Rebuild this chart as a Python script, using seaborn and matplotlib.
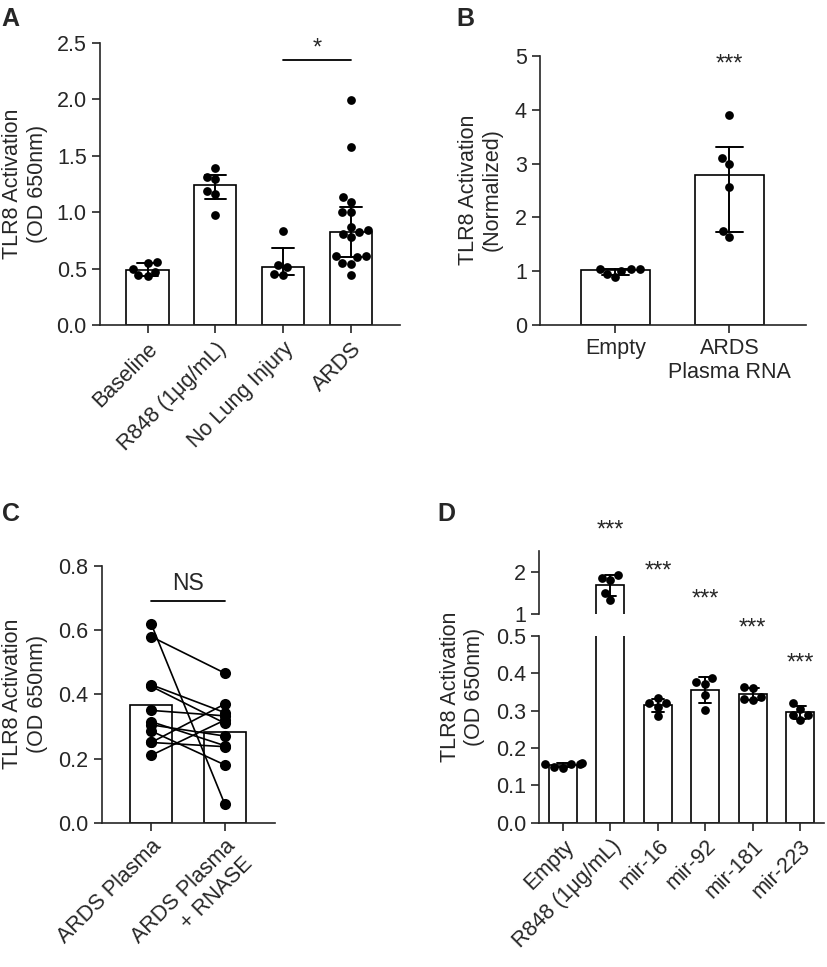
import numpy as np
import pandas as pd
import matplotlib.pyplot as plt
import seaborn as sns

sns.set_style("ticks")
plt.rcParams["font.family"] = ["Liberation Sans", "DejaVu Sans"]
plt.rcParams["axes.linewidth"] = 1.2

# Panel A - TLR8 activation by plasma group (median, IQR)
a_groups = ["Baseline", "R848 (1μg/mL)", "No Lung Injury", "ARDS"]
a_baseline = [0.56, 0.55, 0.50, 0.47, 0.44, 0.43]
a_r848 = [1.39, 1.31, 1.29, 1.19, 1.16, 0.97]
a_no_injury = [0.83, 0.53, 0.51, 0.45, 0.44]
a_ards = [1.99, 1.58, 1.13, 1.09, 1.00, 1.00, 0.87, 0.84, 0.82, 0.81,
          0.78, 0.61, 0.61, 0.60, 0.55, 0.54, 0.44]

# Panel B - normalized (median, IQR)
b_groups = ["Empty", "ARDS\nPlasma RNA"]
b_empty = [0.95, 1.05, 1.01, 1.035, 1.05, 0.89]
b_rna = [3.90, 3.10, 3.00, 2.56, 1.75, 1.63]

# Panel C - paired samples, before / after RNASE
c_groups = ["ARDS Plasma", "ARDS Plasma\n+ RNASE"]
c_before = [0.62, 0.58, 0.43, 0.425, 0.35, 0.315, 0.305, 0.286, 0.25, 0.25, 0.21]
c_after = [0.057, 0.466, 0.343, 0.31, 0.333, 0.24, 0.27, 0.18, 0.237, 0.37, 0.32]

# Panel D - miRNA stimulation (mean, SD)
d_groups = ["Empty", "R848 (1μg/mL)", "mir-16", "mir-92", "mir-181", "mir-223"]
d_empty = [0.150, 0.157, 0.159, 0.158, 0.156, 0.146]
d_r848 = [1.80, 1.92, 1.87, 1.51, 1.34]
d_mir16 = [0.334, 0.310, 0.319, 0.286, 0.319]
d_mir92 = [0.386, 0.370, 0.375, 0.341, 0.301]
d_mir181 = [0.328, 0.359, 0.362, 0.337, 0.330]
d_mir223 = [0.275, 0.304, 0.319, 0.288, 0.288]

FS = 15.5


def long_df(groups, series):
    rows = [(g, v) for g, vals in zip(groups, series) for v in vals]
    return pd.DataFrame(rows, columns=["group", "value"])


def iqr(v):
    return tuple(np.percentile(v, [25, 75], method="weibull"))


def style(ax):
    sns.despine(ax=ax)
    ax.tick_params(direction="out", length=6, width=1.2, labelsize=FS)
    ax.set_xlabel("")
    ax.set_ylabel("")


bar_kw = dict(color="white", edgecolor="black", linewidth=1.2, saturation=1)
err_kw = {"color": "black", "linewidth": 1.4}

fig = plt.figure(figsize=(8.27, 9.67), dpi=100)

# ---- A
ax = fig.add_axes([0.1209, 0.6639, 0.3628, 0.2919])
df_a = long_df(a_groups, [a_baseline, a_r848, a_no_injury, a_ards])
sns.barplot(data=df_a, x="group", y="value", order=a_groups, estimator="median",
            errorbar=iqr, width=0.62, capsize=0.32, err_kws=err_kw, ax=ax, **bar_kw)
sns.swarmplot(data=df_a, x="group", y="value", order=a_groups, color="black",
              size=6.3, ax=ax)
ax.set_ylim(0, 2.5)
ax.set_yticks([0, 0.5, 1.0, 1.5, 2.0, 2.5])
ax.set_xlim(-0.7, 3.72)
style(ax)
ax.set_xticks(range(len(a_groups)))
ax.set_xticklabels(a_groups, rotation=45, ha="right", rotation_mode="anchor")
ax.plot([2, 3], [2.345, 2.345], color="black", lw=1.3)
ax.text(2.5, 2.45, "*", ha="center", va="center", fontsize=17)

# ---- B
ax = fig.add_axes([0.653, 0.6639, 0.3213, 0.2782])
df_b = long_df(b_groups, [b_empty, b_rna])
sns.barplot(data=df_b, x="group", y="value", order=b_groups, estimator="median",
            errorbar=iqr, width=0.6, capsize=0.24, err_kws=err_kw, ax=ax, **bar_kw)
sns.swarmplot(data=df_b, x="group", y="value", order=b_groups, color="black",
              size=6.3, ax=ax)
ax.set_ylim(0, 5)
ax.set_yticks(range(6))
ax.set_xlim(-0.66, 1.67)
style(ax)
ax.set_xticks([0, 1])
ax.set_xticklabels(b_groups)
ax.text(1, 4.85, "***", ha="center", va="center", fontsize=17)

# ---- C
ax = fig.add_axes([0.123, 0.1492, 0.2096, 0.2655])
df_c = pd.DataFrame({
    "pair": list(range(len(c_before))) * 2,
    "group": [c_groups[0]] * len(c_before) + [c_groups[1]] * len(c_after),
    "value": c_before + c_after,
})
df_c["pos"] = pd.Categorical(df_c["group"], categories=c_groups).codes
sns.barplot(data=df_c, x="group", y="value", order=c_groups, errorbar=None,
            width=0.56, ax=ax, **bar_kw)
sns.lineplot(data=df_c, x="pos", y="value", units="pair", estimator=None,
             color="black", marker="o", markersize=8, markeredgewidth=0,
             linewidth=1.2, legend=False, ax=ax)
ax.set_ylim(0, 0.8)
ax.set_yticks([0, 0.2, 0.4, 0.6, 0.8])
ax.set_xlim(-0.67, 1.68)
style(ax)
ax.set_xticks([0, 1])
ax.set_xticklabels(c_groups, rotation=45, ha="right", rotation_mode="anchor")
ax.plot([0, 1], [0.69, 0.69], color="black", lw=1.3)
ax.text(0.5, 0.745, "NS", ha="center", va="center", fontsize=16.5)

# ---- D (broken axis)
df_d = long_df(d_groups, [d_empty, d_r848, d_mir16, d_mir92, d_mir181, d_mir223])
ax_top = fig.add_axes([0.6521, 0.365, 0.3443, 0.0651])
ax_bot = fig.add_axes([0.6521, 0.1492, 0.3443, 0.1934])
for a, lim in [(ax_top, (1, 2.5)), (ax_bot, (0, 0.5))]:
    sns.barplot(data=df_d, x="group", y="value", order=d_groups, estimator="mean",
                errorbar="sd", width=0.59, capsize=0.25, err_kws=err_kw, ax=a, **bar_kw)
    a.set_ylim(*lim)
    a.set_xlim(-0.68, 5.73)
    sns.swarmplot(data=df_d, x="group", y="value", order=d_groups, color="black",
                  size=6.3, ax=a)
    style(a)
ax_top.set_yticks([1, 2])
ax_top.spines["bottom"].set_visible(False)
ax_top.tick_params(bottom=False, labelbottom=False)
ax_bot.set_yticks([0, 0.1, 0.2, 0.3, 0.4, 0.5])
ax_bot.set_xticks(range(len(d_groups)))
ax_bot.set_xticklabels(d_groups, rotation=45, ha="right", rotation_mode="anchor")
ax_top.text(1, 2.99, "***", ha="center", va="center", fontsize=17)
for i, y in zip(range(2, 6), [0.671, 0.596, 0.52, 0.426]):
    ax_bot.text(i, y, "***", ha="center", va="center", fontsize=17)

# y labels and panel letters
ylab = "TLR8 Activation\n(OD 650nm)"
fig.text(0.0302, 0.8097, ylab, rotation=90, ha="center", va="center", fontsize=FS)
fig.text(0.581, 0.8035, "TLR8 Activation\n(Normalized)", rotation=90,
         ha="center", va="center", fontsize=FS)
fig.text(0.0302, 0.2828, ylab, rotation=90, ha="center", va="center", fontsize=FS)
fig.text(0.559, 0.29, ylab, rotation=90, ha="center", va="center", fontsize=FS)
for x, y, s in [(0.002, 0.993, "A"), (0.552, 0.993, "B"),
                (0.003, 0.481, "C"), (0.529, 0.481, "D")]:
    fig.text(x, y, s, ha="left", va="top", fontsize=18, fontweight="bold")

fig.savefig("out.png", dpi=100)
